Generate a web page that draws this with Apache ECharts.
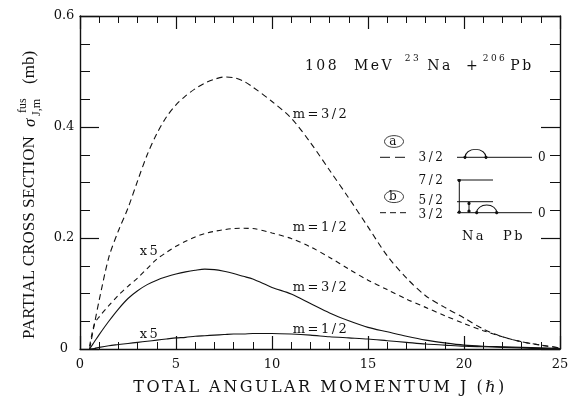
<!DOCTYPE html>
<html>
<head>
<meta charset="utf-8">
<script src="https://cdn.jsdelivr.net/npm/echarts@6/dist/echarts.min.js"></script>
<style>
  html, body { margin: 0; padding: 0; background: #fff; }
  #wrap { position: relative; width: 577px; height: 399px; background: #fff; }
  #chart, #notes { position: absolute; left: 0; top: 0; width: 577px; height: 399px; }
  #notes { pointer-events: none; }
  /* wide, typewriter-like spacing for the serif annotation text */
  #notes text[style*="DejaVu Serif"] { letter-spacing: 2.5px; }
</style>
</head>
<body>
<div id="wrap">
  <div id="chart"></div>
  <div id="notes"></div>
</div>
<script>
// Total angular momentum J (in units of hbar)
const J = [0.5, 0.75, 1, 1.5, 2, 2.5, 3, 3.5, 4, 4.5, 5, 5.5, 6, 6.5, 7, 7.5, 8, 8.5, 9,
           10, 11, 12, 13, 14, 15, 16, 17, 18, 19, 20, 21, 22, 23, 24, 25];

// Partial fusion cross sections (mb), case (a): dashed curves
const dashedM32 = [0, 0.045, 0.088, 0.165, 0.213, 0.254, 0.303, 0.350, 0.388, 0.418, 0.440, 0.456, 0.469, 0.479, 0.486, 0.490, 0.489, 0.483, 0.472,
                   0.446, 0.416, 0.372, 0.322, 0.272, 0.220, 0.168, 0.128, 0.096, 0.075, 0.056, 0.036, 0.022, 0.013, 0.007, 0.002];
const dashedM12x5 = [0.005, 0.045, 0.058, 0.078, 0.097, 0.113, 0.128, 0.145, 0.162, 0.174, 0.185, 0.194, 0.202, 0.208, 0.212, 0.215, 0.217, 0.2175, 0.217,
                     0.209, 0.199, 0.184, 0.165, 0.144, 0.124, 0.107, 0.090, 0.075, 0.060, 0.046, 0.033, 0.022, 0.013, 0.007, 0.002];

// Case (b): solid curves
const solidM32 = [0, 0.013, 0.026, 0.050, 0.072, 0.091, 0.105, 0.116, 0.124, 0.130, 0.135, 0.139, 0.142, 0.144, 0.143, 0.140, 0.136, 0.131, 0.126,
                  0.111, 0.099, 0.082, 0.065, 0.051, 0.039, 0.031, 0.023, 0.016, 0.011, 0.007, 0.005, 0.004, 0.003, 0.002, 0.001];
const solidM12x5 = [0, 0.001, 0.003, 0.006, 0.008, 0.010, 0.012, 0.014, 0.016, 0.018, 0.020, 0.021, 0.023, 0.024, 0.025, 0.026, 0.027, 0.027, 0.028,
                    0.028, 0.027, 0.025, 0.022, 0.020, 0.018, 0.015, 0.012, 0.009, 0.007, 0.005, 0.004, 0.003, 0.002, 0.001, 0.001];

// Axis ranges and text
const xRange = [0, 25], xStep = 5;
const yRange = [0, 0.6], yStep = 0.2;
const xTitle = 'TOTAL ANGULAR MOMENTUM J (\u210F)';
const yTitleParts = ['PARTIAL CROSS SECTION', '\u03C3', 'fus', 'J,m', '(mb)'];
const curveLabels = ['m=3/2', 'm=1/2', 'x5', 'm=3/2', 'm=1/2', 'x5'];

const INK = '#111';
const SERIF = 'DejaVu Serif';

const pairs = ys => J.map((j, i) => [j, ys[i]]);

function curve(name, ys, dash) {
  return {
    type: 'line', name, data: pairs(ys),
    symbol: 'none', smooth: 0.3,
    lineStyle: { color: INK, width: 1.1, type: dash || 'solid' }
  };
}

// Framed axes with inward major and minor ticks
function axis(kind, pos, showLabel) {
  const isX = kind === 'x';
  const a = {
    type: 'value', position: pos,
    min: isX ? xRange[0] : yRange[0], max: isX ? xRange[1] : yRange[1],
    interval: isX ? xStep : yStep,
    axisLine: { show: true, onZero: false, lineStyle: { color: INK, width: 1.4 } },
    axisTick: { show: true, inside: true, length: isX ? 13 : 19, lineStyle: { color: INK, width: 1.2 } },
    minorTick: { show: true, splitNumber: isX ? 5 : 4, length: isX ? 7 : 10, lineStyle: { color: INK, width: 1 } },
    splitLine: { show: false },
    axisLabel: { show: showLabel, fontFamily: SERIF, fontSize: 13, color: INK }
  };
  if (isX) a.axisLabel.margin = 9;
  else { a.axisLabel.align = 'center'; a.axisLabel.margin = 16; }
  return a;
}

function txt(text, x, y, size, align, family, italic) {
  return {
    type: 'text', x, y, silent: true,
    style: { text, fontFamily: family || SERIF, fontSize: size || 13, fontStyle: italic ? 'italic' : 'normal',
             fill: INK, textAlign: align || 'center', textVerticalAlign: 'middle', verticalAlign: 'middle' }
  };
}
function seg(x1, y1, x2, y2, dash) {
  const s = { type: 'line', silent: true, shape: { x1, y1, x2, y2 }, style: { stroke: INK, lineWidth: 1 } };
  if (dash) s.style.lineDash = dash;
  return s;
}
function dot(x, y) {
  return { type: 'circle', silent: true, shape: { cx: x, cy: y, r: 1.6 }, style: { fill: INK } };
}
function halfArc(cx, cy, r, sy) {
  return { type: 'arc', silent: true, x: cx, y: cy, scaleY: sy,
           shape: { cx: 0, cy: 0, r, startAngle: Math.PI, endAngle: 2 * Math.PI, clockwise: true },
           style: { stroke: INK, fill: 'none', lineWidth: 1.1 } };
}
function ring(cx, cy, letter) {
  return [
    { type: 'circle', silent: true, x: cx, y: cy, scaleY: 0.62, shape: { cx: 0, cy: 0, r: 9.5 },
      style: { stroke: INK, fill: 'none', lineWidth: 1 } },
    txt(letter, cx, cy - 0.5, 12)
  ];
}

// Titles, curve labels and the level-scheme inset
const graphics = [
  // horizontal axis title
  txt(xTitle, 320, 386, 16),
  // reaction
  txt('108', 322, 65, 14), txt('MeV', 374, 65, 14),
  txt('23', 413, 58, 9), txt('Na', 440, 65, 14), txt('+', 473, 65, 14),
  txt('206', 495, 58, 9), txt('Pb', 522, 65, 14),
  // curve labels
  txt(curveLabels[0], 321, 113), txt(curveLabels[1], 321, 226), txt(curveLabels[2], 150, 250),
  txt(curveLabels[3], 321, 286), txt(curveLabels[4], 321, 328), txt(curveLabels[5], 150, 333),
  // case (a)
  ...ring(394, 141.5, 'a'),
  seg(380, 157.3, 406, 157.3, [10, 5]),
  txt('3/2', 432, 157, 12),
  seg(457, 157.3, 532, 157.3),
  halfArc(475.5, 157.3, 10.5, 0.76), dot(465, 157.3), dot(486, 157.3),
  txt('0', 543, 157, 12),
  // case (b)
  ...ring(394, 196.7, 'b'),
  txt('7/2', 432, 180, 12), txt('5/2', 432, 200, 12), txt('3/2', 432, 213.5, 12),
  seg(457, 180, 493, 180), seg(457, 201.7, 493, 201.7), seg(457, 212.7, 532, 212.7),
  seg(380, 212.7, 409, 212.7, [6, 4]),
  seg(459.3, 180, 459.3, 212.7), dot(459.3, 180.5), dot(459.3, 212.2),
  seg(469, 202, 469, 212.7), dot(469, 203.5), dot(469, 211.2),
  halfArc(486.7, 212.7, 10, 0.77), dot(476.7, 212.7), dot(496.7, 212.7),
  txt('0', 543, 212.7, 12),
  txt('Na', 474, 235), txt('Pb', 514, 235),
  // vertical axis title
  {
    type: 'group', x: 28, y: 339, rotation: Math.PI / 2, silent: true,
    children: [
      txt(yTitleParts[0], 0, 0, 17, 'left', 'Liberation Serif'),
      txt(yTitleParts[1], 212, 1, 17, 'left', 'Liberation Serif', true),
      txt(yTitleParts[2], 226, -6, 12, 'left', 'Liberation Serif'),
      txt(yTitleParts[3], 223, 8, 12, 'left', 'Liberation Serif'),
      txt(yTitleParts[4], 255, 0, 17, 'left', 'Liberation Serif')
    ]
  }
];

// Plot: axes frame and the four curves
const chart = echarts.init(document.getElementById('chart'), null, { renderer: 'canvas' });
chart.setOption({
  animation: false,
  grid: { left: 80, right: 17, top: 16, bottom: 50 },
  xAxis: [axis('x', 'bottom', true), axis('x', 'top', false)],
  yAxis: [axis('y', 'left', true), axis('y', 'right', false)],
  series: [
    curve('m=3/2 (a)', dashedM32, [6, 4]),
    curve('m=1/2 x5 (a)', dashedM12x5, [5, 4]),
    curve('m=3/2 (b)', solidM32),
    curve('m=1/2 x5 (b)', solidM12x5)
  ]
});

// Text and inset layer on top of the plot
const notes = echarts.init(document.getElementById('notes'), null, { renderer: 'svg' });
notes.setOption({
  animation: false,
  graphic: { elements: graphics }
});
</script>
</body>
</html>
